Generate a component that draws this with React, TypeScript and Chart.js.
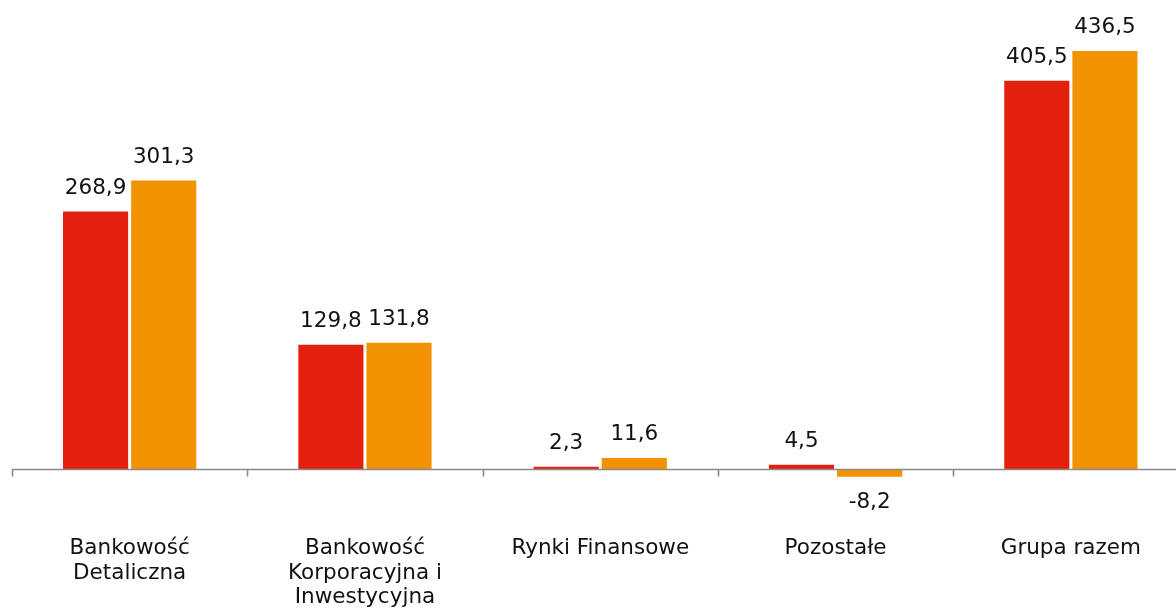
import React, { useEffect, useRef } from 'react';
import { Chart, registerables } from 'chart.js';

Chart.register(...registerables);

const categories: (string | string[])[] = [
  ['Bankowość', 'Detaliczna'],
  ['Bankowość', 'Korporacyjna i', 'Inwestycyjna'],
  'Rynki Finansowe',
  'Pozostałe',
  'Grupa razem',
];
const seriesA = [268.9, 129.8, 2.3, 4.5, 405.5];
const seriesB = [301.3, 131.8, 11.6, -8.2, 436.5];
const colorA = '#E3200E';
const colorB = '#F39200';

const fmt = (v: number) => v.toFixed(1).replace('.', ',');

const CANVAS_W = 1199;
const CANVAS_H = 608;
const X_AXIS_H = 129.5;

const labelsPlugin = {
  id: 'valueLabels',
  afterDatasetsDraw(chart: any) {
    const ctx = chart.ctx;
    ctx.save();
    ctx.font = '21.5px "DejaVu Sans"';
    ctx.fillStyle = '#111111';
    ctx.textAlign = 'center';
    ctx.textBaseline = 'middle';
    chart.data.datasets.forEach((ds: any, di: number) => {
      const meta = chart.getDatasetMeta(di);
      meta.data.forEach((el: any, i: number) => {
        const v = ds.data[i] as number;
        const y = v >= 0 ? el.y - 23.5 : el.y + 26;
        ctx.fillText(fmt(v), el.x, y);
      });
    });
    ctx.restore();
  },
};

const axisPlugin = {
  id: 'zeroAxis',
  afterDatasetsDraw(chart: any) {
    const ctx = chart.ctx;
    const y0 = Math.round(chart.scales.y.getPixelForValue(0)) + 0.5;
    const area = chart.chartArea;
    ctx.save();
    ctx.strokeStyle = '#8a8a8a';
    ctx.lineWidth = 1.6;
    ctx.beginPath();
    ctx.moveTo(area.left, y0);
    ctx.lineTo(chart.width, y0);
    const n = categories.length;
    const w = (area.right - area.left) / n;
    for (let i = 0; i <= n; i++) {
      const x = Math.round(area.left + i * w) + 0.5;
      ctx.moveTo(x, y0);
      ctx.lineTo(x, y0 + 7);
    }
    ctx.stroke();
    ctx.restore();
  },
};

export default function App() {
  const ref = useRef<HTMLCanvasElement | null>(null);

  useEffect(() => {
    if (!ref.current) return;
    const chart = new Chart(ref.current, {
      type: 'bar',
      data: {
        labels: categories,
        datasets: [
          {
            label: 'A',
            data: seriesA,
            backgroundColor: colorA,
            borderWidth: 0,
            categoryPercentage: 0.579,
            barPercentage: 0.956,
          },
          {
            label: 'B',
            data: seriesB,
            backgroundColor: colorB,
            borderWidth: 0,
            categoryPercentage: 0.579,
            barPercentage: 0.956,
          },
        ],
      },
      options: {
        animation: false,
        responsive: false,
        devicePixelRatio: 1,
        layout: { padding: { left: 12, right: 0, top: 0, bottom: 0 } },
        plugins: {
          legend: { display: false },
          tooltip: { enabled: false },
          title: { display: false },
        },
        scales: {
          x: {
            grid: { display: false, drawTicks: false, tickLength: 0 },
            border: { display: false },
            afterFit: (scale: any) => {
              scale.height = X_AXIS_H;
            },
            ticks: {
              autoSkip: false,
              maxRotation: 0,
              minRotation: 0,
              padding: 58,
              color: '#111111',
              font: { family: '"DejaVu Sans"', size: 21.5, lineHeight: 1.14 },
            },
          },
          y: {
            display: false,
            min: -9.9,
            max: 489.8,
          },
        },
      },
      plugins: [axisPlugin, labelsPlugin],
    });
    return () => chart.destroy();
  }, []);

  return (
    <div
      style={{
        position: 'absolute',
        left: 0,
        top: 0,
        width: 1176,
        height: 608,
        overflow: 'hidden',
        background: '#ffffff',
      }}
    >
      <canvas
        ref={ref}
        width={CANVAS_W}
        height={CANVAS_H}
        style={{ width: CANVAS_W, height: CANVAS_H, display: 'block' }}
      />
    </div>
  );
}
